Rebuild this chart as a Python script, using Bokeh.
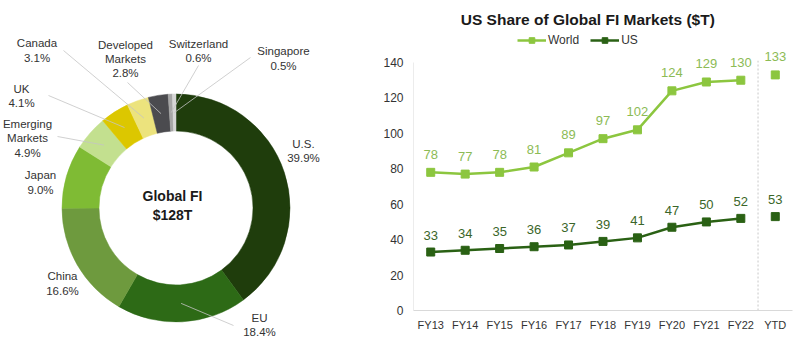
import math
from bokeh.plotting import figure
from bokeh.layouts import row
from bokeh.models import Range1d, FixedTicker, Legend, LegendItem, ColumnDataSource
from bokeh.core.properties import value
from bokeh.embed import file_html
from bokeh.resources import INLINE

# ---------------- data ----------------
regions = ["U.S.", "EU", "China", "Japan", "Emerging\nMarkets", "UK", "Canada",
           "Developed\nMarkets", "Switzerland", "Singapore"]
shares = [39.9, 18.4, 16.6, 9.0, 4.9, 4.1, 3.1, 2.8, 0.6, 0.5]
center_title = "Global FI"
center_total = "$128T"

years = ["FY13", "FY14", "FY15", "FY16", "FY17", "FY18", "FY19", "FY20", "FY21", "FY22", "YTD"]
world = [78, 77, 78, 81, 89, 97, 102, 124, 129, 130, 133]
us = [33, 34, 35, 36, 37, 39, 41, 47, 50, 52, 53]
y_ticks = [0, 20, 40, 60, 80, 100, 120, 140]
chart_title = "US Share of Global FI Markets ($T)"

# ---------------- styles / layout ----------------
FONT = "Liberation Sans"
slice_colors = ["#1f3d0c", "#2d6a16", "#6e9a3e", "#7fbb34", "#c3e08f", "#dcc700",
                "#ece37d", "#4b4b4f", "#a6a6a6", "#d6d6d6"]
W1, H = 360, 353
CX, CY_PAGE = 175.5, 207.5
RO, RI = 114, 77
# label block centres (page px) and leader line end points (page px)
label_pos = [(303, 150.5), (259, 324.5), (62, 283), (40, 182), (27, 138), (21, 95.5),
             (36.5, 50), (125, 58.5), (198, 50.5), (283, 58)]
leader_end = [None, (233, 325), None, None, (57, 136), (48, 95), (63, 50), (127, 82),
              (198, 65), (250, 57)]

# ---------------- donut ----------------
p1 = figure(width=W1, height=H, x_range=Range1d(0, W1), y_range=Range1d(0, H),
            x_axis_type=None, y_axis_type=None, output_backend="svg",
            toolbar_location=None, min_border=0, frame_align=False)
p1.grid.visible = False
p1.outline_line_color = None

CY = H - CY_PAGE
tot = sum(shares)
starts, ends, mids = [], [], []
cum = 0.0
for s in shares:
    a0 = math.pi / 2 - 2 * math.pi * cum / tot
    cum += s
    a1 = math.pi / 2 - 2 * math.pi * cum / tot
    starts.append(a0)
    ends.append(a1)
    mids.append((a0 + a1) / 2)

src = ColumnDataSource(dict(start=starts, end=ends, color=slice_colors))
p1.annular_wedge(x=CX, y=CY, inner_radius=RI, outer_radius=RO, start_angle="start",
                 end_angle="end", direction="clock", fill_color="color",
                 line_color="color", line_width=0.5, source=src)

# leader lines
xs, ys = [], []
rm = (RI + RO) / 2
for m, e in zip(mids, leader_end):
    if e is None:
        continue
    xs.append([CX + rm * math.cos(m), e[0]])
    ys.append([CY + rm * math.sin(m), H - e[1]])
p1.multi_line(xs=xs, ys=ys, line_color="#c4c4c4", line_width=0.8)

texts = [f"{r}\n{s:.1f}%" for r, s in zip(regions, shares)]
p1.text(x=[lp[0] for lp in label_pos], y=[H - lp[1] for lp in label_pos], text=texts,
        text_font=value(FONT), text_font_size="11.5px", text_color="#333333",
        text_align="center", text_baseline="middle", text_line_height=1.2)
p1.text(x=[172], y=[H - 205], text=[center_title + "\n" + center_total],
        text_font=value(FONT), text_font_size="14px", text_font_style="bold",
        text_color="#1a1a1a", text_align="center", text_baseline="middle",
        text_line_height=1.15)

# ---------------- line chart ----------------
W2 = 800 - W1
FRAME_BOTTOM = 310          # page px of y=0
PX_PER_UNIT = (310 - 62) / 140.0
y_top = FRAME_BOTTOM / PX_PER_UNIT
p2 = figure(width=W2, height=H, x_range=Range1d(-0.5, len(years) - 0.5),
            y_range=Range1d(0, y_top), output_backend="svg", toolbar_location=None,
            min_border_left=53, min_border_right=8, min_border_top=0,
            min_border_bottom=H - FRAME_BOTTOM, frame_align=False)
p2.grid.visible = False
p2.outline_line_color = None

xi = list(range(len(years)))
n_line = len(years) - 1  # YTD is not connected

WORLD_C, US_C = "#8cc63f", "#2a6114"
lw = p2.line(xi[:n_line], world[:n_line], line_color=WORLD_C, line_width=2.5)
sw = p2.scatter(xi, world, marker="square", size=8, fill_color=WORLD_C, line_color=WORLD_C)
lu = p2.line(xi[:n_line], us[:n_line], line_color=US_C, line_width=2.5)
su = p2.scatter(xi, us, marker="square", size=8, fill_color=US_C, line_color=US_C)

p2.text(x=xi, y=world, text=[str(v) for v in world], text_font=value(FONT),
        text_font_size="13px", text_color="#8cbb55", text_align="center",
        text_baseline="middle", y_offset=-18)
p2.text(x=xi, y=us, text=[str(v) for v in us], text_font=value(FONT),
        text_font_size="13px", text_color="#3a6629", text_align="center",
        text_baseline="middle", y_offset=-17)

# axis line (only up to 140) and YTD separator
p2.segment(x0=[-0.5], y0=[0], x1=[-0.5], y1=[y_ticks[-1]], line_color="#d9d9d9", line_width=1)
p2.segment(x0=[n_line - 0.5], y0=[0], x1=[n_line - 0.5], y1=[141], line_color="#c8c8c8",
           line_width=1, line_dash="2 2")

p2.xaxis.ticker = FixedTicker(ticks=xi)
p2.xaxis.major_label_overrides = {i: y for i, y in enumerate(years)}
p2.xaxis.axis_line_color = "#d9d9d9"
p2.yaxis.ticker = FixedTicker(ticks=y_ticks)
p2.yaxis.axis_line_color = None
for ax in (p2.xaxis, p2.yaxis):
    ax.major_tick_line_color = None
    ax.minor_tick_line_color = None
    ax.major_tick_out = 0
    ax.major_tick_in = 0
    ax.major_label_text_font = FONT
    ax.major_label_text_color = "#333333"
p2.xaxis.major_label_text_font_size = "11px"
p2.xaxis.major_label_standoff = 8
p2.yaxis.major_label_text_font_size = "12px"
p2.yaxis.major_label_standoff = 10

# title
p2.text(x=[(587.3 - 413) / 34.45 - 0.5], y=[(FRAME_BOTTOM - 18.5) / PX_PER_UNIT],
        text=[chart_title], text_font=value(FONT), text_font_size="15.5px",
        text_font_style="bold", text_color="#1a1a1a", text_align="center",
        text_baseline="middle")

legend = Legend(items=[LegendItem(label="World", renderers=[lw, sw]),
                       LegendItem(label="US", renderers=[lu, su])],
                orientation="horizontal", location=(104, 263),
                glyph_width=29, glyph_height=14, label_height=14, label_standoff=2,
                spacing=11, padding=0, margin=0, border_line_color=None,
                background_fill_alpha=0, label_text_font=FONT,
                label_text_font_size="12px", label_text_color="#333333")
p2.add_layout(legend, "center")

layout = row(p1, p2, spacing=0)
open("out.html", "w").write(file_html(layout, INLINE))
